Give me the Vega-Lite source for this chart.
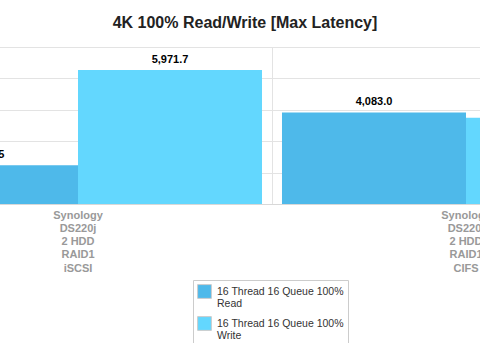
{
  "$schema": "https://vega.github.io/schema/vega-lite/v6.json",
  "width": 480,
  "height": 157,
  "autosize": {"type": "none"},
  "padding": {"left": 0, "top": 47, "right": 0, "bottom": 139},
  "background": "white",
  "title": {
    "text": "4K 100% Read/Write [Max Latency]",
    "fontSize": 16,
    "fontWeight": "bold",
    "font": "Liberation Sans",
    "color": "#222",
    "anchor": "middle",
    "offset": 16,
    "dx": 5
  },
  "config": {"view": {"stroke": null}},
  "data": {
    "values": [
      {"system": "Synology DS220j 2 HDD RAID1 iSCSI", "series": "16 Thread 16 Queue 100% Read", "value": 1725.5},
      {"system": "Synology DS220j 2 HDD RAID1 iSCSI", "series": "16 Thread 16 Queue 100% Write", "value": 5971.7},
      {"system": "Synology DS220j 2 HDD RAID1 CIFS", "series": "16 Thread 16 Queue 100% Read", "value": 4083.0},
      {"system": "Synology DS220j 2 HDD RAID1 CIFS", "series": "16 Thread 16 Queue 100% Write", "value": 3848.0}
    ]
  },
  "encoding": {
    "x": {
      "field": "system",
      "type": "nominal",
      "sort": null,
      "scale": {"range": [-116, 660], "paddingInner": 0, "paddingOuter": 0},
      "axis": {
        "title": null,
        "bandPosition": 0,
        "grid": true,
        "gridColor": "#e3e3e3",
        "ticks": false,
        "domainColor": "#d8d8d8",
        "labelAngle": 0,
        "labelExpr": "[slice(datum.label,0,8), slice(datum.label,9,15), slice(datum.label,16,21), slice(datum.label,22,27), slice(datum.label,28)]",
        "labelColor": "#999999",
        "labelFont": "Liberation Sans",
        "labelFontSize": 11,
        "labelFontWeight": "bold",
        "labelLineHeight": 13.3,
        "labelPadding": 5,
        "labelBaseline": "top",
        "labelOverlap": false
      }
    },
    "xOffset": {
      "field": "series",
      "type": "nominal",
      "sort": null,
      "scale": {"paddingInner": 0, "paddingOuter": 0.0543}
    },
    "y": {
      "field": "value",
      "type": "quantitative",
      "scale": {"domain": [0, 7000], "nice": false},
      "axis": {
        "title": null,
        "values": [0, 1400, 2800, 4200, 5600, 7000],
        "labels": false,
        "ticks": false,
        "domain": false,
        "grid": true,
        "gridColor": "#e3e3e3"
      }
    }
  },
  "layer": [
    {
      "mark": {"type": "bar"},
      "encoding": {
        "color": {
          "field": "series",
          "type": "nominal",
          "sort": null,
          "scale": {"range": ["#4EB9EA", "#63D7FE"]},
          "legend": {
            "orient": "none",
            "legendX": 193,
            "legendY": 233,
            "title": null,
            "direction": "vertical",
            "symbolType": "square",
            "symbolSize": 190,
            "symbolStrokeColor": "#cccccc",
            "symbolStrokeWidth": 1,
            "labelFont": "Liberation Sans",
            "labelFontSize": 10.5,
            "labelColor": "#333333",
            "labelExpr": "[slice(datum.label,0,23), slice(datum.label,24)]",
            "labelLineHeight": 12,
            "labelLimit": 200,
            "strokeColor": "#cccccc",
            "padding": 4,
            "rowPadding": 4,
            "labelOffset": 5
          }
        }
      }
    },
    {
      "mark": {
        "type": "text",
        "baseline": "bottom",
        "dy": -5,
        "fontWeight": "bold",
        "fontSize": 11,
        "font": "Liberation Sans",
        "color": "#000000"
      },
      "encoding": {
        "text": {"field": "value", "type": "quantitative", "format": ",.1f"}
      }
    }
  ]
}
